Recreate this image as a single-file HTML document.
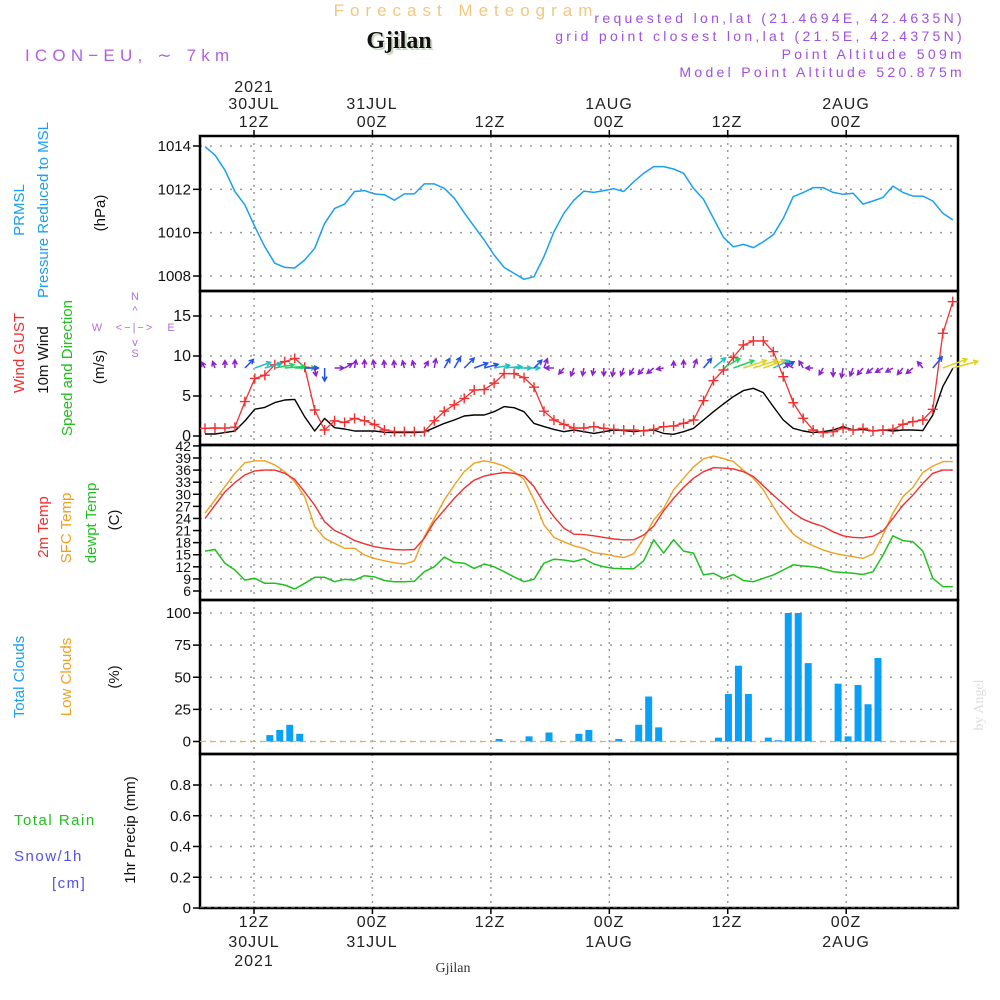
<!DOCTYPE html>
<html><head><meta charset="utf-8"><style>
html,body{margin:0;padding:0;background:#fff;}
svg{display:block;font-family:"Liberation Sans",sans-serif;}
</style></head><body>
<svg id="chart" width="1000" height="1000" viewBox="0 0 1000 1000" xmlns="http://www.w3.org/2000/svg">
<rect x="0" y="0" width="1000" height="1000" fill="#fff"/>
<text x="466" y="16" text-anchor="middle" font-size="17" fill="#f0c880" letter-spacing="6">Forecast Meteogram</text>
<text x="401" y="50" text-anchor="middle" font-size="24" font-weight="bold" font-family="Liberation Serif,serif" fill="#c8d8c0">Gjilan</text>
<text x="399" y="48" text-anchor="middle" font-size="24" font-weight="bold" font-family="Liberation Serif,serif" fill="#111">Gjilan</text>
<text x="25" y="61" font-size="17" fill="#b060e0" letter-spacing="5.2">ICON−EU, ∼ 7km</text>
<g font-size="14" fill="#a050e0" text-anchor="end" letter-spacing="3.3">
<text x="965" y="23">requested lon,lat (21.4694E, 42.4635N)</text>
<text x="965" y="41">grid point closest lon,lat (21.5E, 42.4375N)</text>
<text x="965" y="59">Point Altitude 509m</text>
<text x="965" y="77">Model Point Altitude 520.875m</text>
</g>
<g font-size="16" fill="#222" text-anchor="middle" letter-spacing="1">
<text x="254" y="92">2021</text><text x="254" y="109">30JUL</text><text x="254" y="127">12Z</text>
<text x="372" y="109">31JUL</text><text x="372" y="127">00Z</text>
<text x="490" y="127">12Z</text>
<text x="609" y="109">1AUG</text><text x="609" y="127">00Z</text>
<text x="727" y="127">12Z</text>
<text x="846" y="109">2AUG</text><text x="846" y="127">00Z</text>
</g>
<g font-size="16" fill="#222" text-anchor="middle" letter-spacing="1">
<text x="254" y="927">12Z</text><text x="254" y="947">30JUL</text><text x="254" y="966">2021</text>
<text x="372" y="927">00Z</text><text x="372" y="947">31JUL</text>
<text x="490" y="927">12Z</text>
<text x="609" y="927">00Z</text><text x="609" y="947">1AUG</text>
<text x="727" y="927">12Z</text>
<text x="846" y="927">00Z</text><text x="846" y="947">2AUG</text>
</g>
<text x="453" y="972" text-anchor="middle" font-size="14" font-family="Liberation Serif,serif" fill="#333">Gjilan</text>
<text transform="translate(983,705) rotate(-90)" text-anchor="middle" font-size="14" font-family="Liberation Serif,serif" fill="#ddd">by Angel</text>
<g font-size="15" text-anchor="middle">
<text transform="translate(24,210) rotate(-90)" fill="#1aa0f0">PRMSL</text>
<text transform="translate(48,210) rotate(-90)" fill="#1aa0f0">Pressure Reduced to MSL</text>
<text transform="translate(105,213) rotate(-90)" fill="#111">(hPa)</text>
<text transform="translate(24,353) rotate(-90)" fill="#f03030">Wind GUST</text>
<text transform="translate(48,360) rotate(-90)" fill="#111">10m Wind</text>
<text transform="translate(72,368) rotate(-90)" fill="#20c020">Speed and Direction</text>
<text transform="translate(104,367) rotate(-90)" fill="#111">(m/s)</text>
<text transform="translate(48,527) rotate(-90)" fill="#f03030">2m Temp</text>
<text transform="translate(71,528) rotate(-90)" fill="#f0a020">SFC Temp</text>
<text transform="translate(96,523) rotate(-90)" fill="#20c020">dewpt Temp</text>
<text transform="translate(119,520) rotate(-90)" fill="#111">(C)</text>
<text transform="translate(24,677) rotate(-90)" fill="#1aa0f0">Total Clouds</text>
<text transform="translate(71,677) rotate(-90)" fill="#f0a020">Low Clouds</text>
<text transform="translate(119,677) rotate(-90)" fill="#111">(%)</text>
<text transform="translate(135,830) rotate(-90)" fill="#111">1hr Precip (mm)</text>
<text x="14" y="825" text-anchor="start" fill="#20c020" letter-spacing="1.5">Total   Rain</text>
<text x="14" y="861" text-anchor="start" fill="#5050f0" letter-spacing="1.5">Snow/1h</text>
<text x="52" y="888" text-anchor="start" fill="#5050f0" letter-spacing="1.5">[cm]</text>
</g>
<g fill="#b070e0" stroke="none" font-size="11" text-anchor="middle">
<text x="135" y="300">N</text><text x="135" y="357">S</text><text x="97" y="331">W</text><text x="171" y="331">E</text>
<text x="135" y="331" font-size="11" letter-spacing="2">&lt;−|−&gt;</text>
<text x="135" y="314">^</text><text x="135" y="346">v</text>
</g>
<g id="plot"></g>
</svg>
<script>
// ---- data (hourly, starting 07Z 30JUL) ----
const pressure = [1013.97,1013.58,1012.89,1011.9,1011.28,1010.28,1009.35,1008.59,1008.4,1008.37,1008.74,1009.28,1010.43,1011.12,1011.32,1011.9,1011.94,1011.79,1011.75,1011.5,1011.79,1011.79,1012.25,1012.25,1012.05,1011.59,1010.92,1010.28,1009.66,1008.97,1008.4,1008.12,1007.85,1007.97,1008.9,1010.05,1010.9,1011.5,1011.92,1011.86,1011.94,1012.03,1011.9,1012.35,1012.74,1013.05,1013.05,1012.94,1012.74,1012.05,1011.54,1010.66,1009.79,1009.35,1009.46,1009.31,1009.58,1009.9,1010.66,1011.66,1011.85,1012.08,1012.08,1011.86,1011.77,1011.82,1011.32,1011.46,1011.63,1012.15,1011.86,1011.69,1011.69,1011.46,1010.9,1010.59];
const windGust = [0.96,1.0,0.99,1.1,4.3,7.2,7.6,8.9,9.3,9.7,8.6,3.25,0.75,1.9,1.7,2.2,1.9,1.45,0.75,0.55,0.55,0.55,0.55,1.9,3.1,3.9,4.7,5.75,5.8,6.6,7.8,7.8,7.3,6.1,3.1,2.0,1.45,1.0,1.0,1.17,0.96,0.83,0.75,0.75,0.63,0.83,1.17,1.25,1.58,2.0,4.42,6.92,8.25,9.83,11.38,11.88,11.88,10.54,7.42,4.17,2.21,0.75,0.42,0.54,0.96,0.75,0.96,0.63,0.75,0.83,1.46,1.79,2.0,3.33,12.83,16.79];
const wind10m = [0.25,0.25,0.42,0.63,1.875,3.35,3.58,4.17,4.5,4.58,2.4,0.63,2.2,1.04,0.87,0.63,0.63,0.63,0.46,0.42,0.42,0.42,0.5,1.04,1.58,2.0,2.5,2.63,2.63,3.04,3.67,3.54,3.04,1.58,1.17,0.83,0.54,0.75,0.54,0.33,0.54,0.75,0.67,0.54,0.67,0.75,0.33,0.21,0.54,0.96,2.0,3.04,4.0,4.92,5.67,5.96,5.42,3.67,2.0,0.96,0.63,0.42,0.54,0.75,1.17,0.75,0.83,0.63,0.75,0.63,0.75,0.75,0.67,2.63,6.17,8.46];
const windDir = [330,340,0,0,45,70,75,80,85,90,90,170,180,90,60,10,0,350,355,355,345,345,30,10,30,30,45,70,75,80,85,90,90,45,20,270,220,200,190,190,180,190,200,210,220,230,260,0,0,20,40,50,60,70,72,72,70,65,60,300,330,270,210,180,190,200,220,230,240,240,220,230,320,40,70,75];
const temp2m = [24.0,27.3,30.6,32.9,34.8,35.8,36.0,36.0,35.2,33.7,30.6,27.3,23.2,21.0,19.9,18.5,17.7,17.0,16.6,16.3,16.2,16.3,19.1,23.2,26.1,29.0,31.5,33.5,34.5,35.0,35.4,35.2,34.5,31.9,27.8,24.4,21.6,20.1,20.0,19.7,19.3,18.9,18.7,18.7,19.9,22.1,25.9,29.0,31.7,34.0,35.6,36.6,36.5,36.3,35.6,34.4,32.1,29.8,27.6,25.4,23.8,22.8,22.0,20.7,19.7,19.3,19.2,19.6,20.9,24.0,27.3,29.8,32.7,35.2,36.0,36.0];
const tempSfc = [25.3,28.6,31.9,35.2,37.8,38.3,38.3,37.3,35.6,33.1,29.4,22.0,19.1,17.8,16.6,16.6,14.9,14.1,13.5,13.0,12.7,13.5,19.5,24.0,28.6,32.3,35.6,37.7,38.3,37.8,37.0,35.6,33.7,28.6,22.4,19.3,18.2,17.2,16.6,15.5,15.2,14.7,14.3,15.2,19.1,23.6,26.5,31.1,34.0,36.8,38.8,39.5,38.9,38.1,36.0,34.0,31.1,26.9,23.2,20.1,18.4,17.2,16.2,15.4,14.9,14.5,14.1,15.2,19.9,25.3,29.4,31.7,35.4,37.0,38.1,38.1];
const dewpoint = [15.9,16.3,12.9,11.2,8.7,9.15,7.9,7.9,7.5,6.5,7.9,9.4,9.4,8.3,8.9,8.7,9.8,9.5,8.6,8.3,8.3,8.4,10.8,12.0,14.4,13.1,12.9,11.6,12.7,12.0,10.8,9.5,8.3,8.9,12.9,13.9,13.7,13.3,14.0,12.7,12.0,11.6,11.5,11.5,13.5,18.7,15.4,18.7,15.9,15.4,10.0,10.4,9.15,10.1,8.6,8.3,9.15,10.0,11.2,12.5,12.2,12.0,11.6,10.8,10.6,10.4,10.1,10.8,14.9,19.7,18.5,18.2,15.9,9.15,7.1,7.1];
const totalClouds = [0,0,0,0,0,0,5,9,13,6,0,0,0,0,0,0,0,0,0,0,0,0,0,0,0,0,0,0,0,2,0,0,4,0,7,0,0,6,9,0,0,2,0,13,35,11,0,0,0,0,0,3,37,59,37,0,3,1,100,100,61,0,0,45,4,44,29,65,0,0,0,0,0,0,0,0];
const lowClouds = [0,0,0,0,0,0,0,0,0,0,0,0,0,0,0,0,0,0,0,0,0,0,0,0,0,0,0,0,0,0,0,0,0,0,0,0,0,0,0,0,0,0,0,0,0,0,0,0,0,0,0,0,0,0,0,0,0,0,0,0,0,0,0,0,0,0,0,0,0,0,0,0,0,0,0,0];
const precip = [0,0,0,0,0,0,0,0,0,0,0,0,0,0,0,0,0,0,0,0,0,0,0,0,0,0,0,0,0,0,0,0,0,0,0,0,0,0,0,0,0,0,0,0,0,0,0,0,0,0,0,0,0,0,0,0,0,0,0,0,0,0,0,0,0,0,0,0,0,0,0,0,0,0,0,0];
const pressureTicks = [1014,1012,1010,1008];
const windTicks = [15,10,5,0];
const tempTicks = [42,39,36,33,30,27,24,21,18,15,12,9,6];
const cloudTicks = [100,75,50,25,0];
const precipTicks = [0.8,0.6,0.4,0.2,0];
const timeGridHours = [0,12,24,36,48,60];

// ---- axes ----
const L = 200, R = 958;
function xH(h){ return 254 + h*9.87; }
function xI(i){ return 205 + i*9.97; }
function yP(v){ return 146 + (1014 - v)*21.67; }
function yW(v){ return 436 - v*8; }
function yT(v){ return 591 - (v - 6)*4.03; }
function yC(v){ return 741.5 - v*1.285; }
function yR(v){ return 908 - v*153.75; }
const panels = [[136,291],[291,445],[445,600],[600,754],[754,908]];

const NS = "http://www.w3.org/2000/svg";
const plot = document.getElementById('plot');
function mk(tag, attrs, parent){
  const e = document.createElementNS(NS, tag);
  for (const k in attrs) e.setAttribute(k, attrs[k]);
  (parent || plot).appendChild(e);
  return e;
}

panels.forEach((p) => {
  timeGridHours.forEach(h => {
    const g = mk('line', {x1:xH(h), x2:xH(h), y1:p[0], y2:p[1], stroke:'#9a9a9a', 'stroke-width':1.5, 'stroke-dasharray':'2,5'});
    
    
  });
});
function hGrid(ticks, yf, labelFmt, fs){
  ticks.forEach(t => {
    const y = yf(t);
    const g = mk('line', {x1:L, x2:R, y1:y, y2:y, stroke:'#9a9a9a', 'stroke-width':1.5, 'stroke-dasharray':'2,8'});
    
    
    const tk = mk('line', {x1:L-7, x2:L, y1:y, y2:y, stroke:'#000', 'stroke-width':1.5});
    
    
    const tx = mk('text', {x:L-9, y:y+5, 'text-anchor':'end', 'font-size':fs, fill:'#111'});
    tx.textContent = labelFmt(t);
    
    
  });
}
hGrid(pressureTicks, yP, t => String(t), 15);
hGrid(windTicks, yW, t => String(t), 16);
hGrid(tempTicks, yT, t => String(t), 14);
hGrid(cloudTicks, yC, t => String(t), 15);
hGrid(precipTicks, yR, t => t === 0 ? '0' : t.toFixed(1), 15);

panels.forEach((p) => {
  const r = mk('rect', {x:L, y:p[0], width:R-L, height:p[1]-p[0], fill:'none', stroke:'#000', 'stroke-width':2.5});
  
  
});
timeGridHours.forEach(h => {
  const t1 = mk('line', {x1:xH(h), x2:xH(h), y1:130, y2:136, stroke:'#000', 'stroke-width':1.5});
  
  
  const t2 = mk('line', {x1:xH(h), x2:xH(h), y1:908, y2:914, stroke:'#000', 'stroke-width':1.5});
  
  
});

function line(arr, yf, color, w, name){
  const pts = arr.map((v,i) => xI(i).toFixed(1) + ',' + yf(v).toFixed(1)).join(' ');
  const pl = mk('polyline', {points:pts, fill:'none', stroke:color, 'stroke-width':w, 'stroke-linejoin':'round'});
  
  
  return pl;
}

line(pressure, yP, '#1aa0f0', 1.5, 'pressure-line');
line(wind10m, yW, '#000', 1.4, 'wind-10m-line');
line(windGust, yW, '#f03030', 1.3, 'wind-gust-line');
windGust.forEach((v,i) => {
  const x = xI(i), y = yW(v);
  const m = mk('path', {d:`M${x-5},${y}H${x+5}M${x},${y-5}V${y+5}`, stroke:'#f03030', 'stroke-width':1.4, fill:'none'});
  
  
});
function arrowColor(s){
  if (s < 1.5) return '#8a20d0';
  if (s < 3) return '#2050f0';
  if (s < 4) return '#20c0c0';
  if (s < 5) return '#20d060';
  return '#e0d020';
}
windDir.forEach((d,i) => {
  const s = wind10m[i];
  const len = Math.min(6 + s*3.2, 26);
  const a = d*Math.PI/180;
  const x0 = xI(i), y0 = 368;
  const x1 = x0 + len*Math.sin(a), y1 = y0 - len*Math.cos(a);
  const hl = 5;
  const h1 = a + Math.PI - 0.5, h2 = a + Math.PI + 0.5;
  const col = arrowColor(s);
  const p = mk('path', {d:`M${x0},${y0}L${x1},${y1}M${x1+hl*Math.sin(h1)},${y1-hl*Math.cos(h1)}L${x1},${y1}L${x1+hl*Math.sin(h2)},${y1-hl*Math.cos(h2)}`, stroke:col, 'stroke-width':1.5, fill:'none'});
  
  
});

line(tempSfc, yT, '#f0a020', 1.4, 'sfc-temp-line');
line(temp2m, yT, '#f03030', 1.4, '2m-temp-line');
line(dewpoint, yT, '#20c020', 1.5, 'dewpoint-line');

const zl = mk('line', {x1:L, x2:R, y1:yC(0), y2:yC(0), stroke:'#f0b050', 'stroke-width':1.2, 'stroke-dasharray':'6,4'});


totalClouds.forEach((v,i) => {
  if (v <= 0) return;
  const xc = xI(i) + 5;
  const b = mk('rect', {x:xc-3.5, y:yC(v), width:7, height:yC(0)-yC(v), fill:'#0aa0f5'});
  
  
});
lowClouds.forEach((v,i) => {
  if (v <= 0) return;
  const xc = xI(i) + 5;
  const b = mk('rect', {x:xc-2, y:yC(v), width:4, height:yC(0)-yC(v), fill:'#f0a020'});
  
  
});

precip.forEach((v,i) => {
  if (v <= 0) return;
  const xc = xI(i) + 5;
  const b = mk('rect', {x:xc-3.5, y:yR(v), width:7, height:yR(0)-yR(v), fill:'#20c020'});
  
  
});
const pl0 = mk('line', {x1:L, x2:R, y1:yR(0)-1, y2:yR(0)-1, stroke:'#888', 'stroke-width':1, 'stroke-dasharray':'4,3'});


</script>
</body></html>
